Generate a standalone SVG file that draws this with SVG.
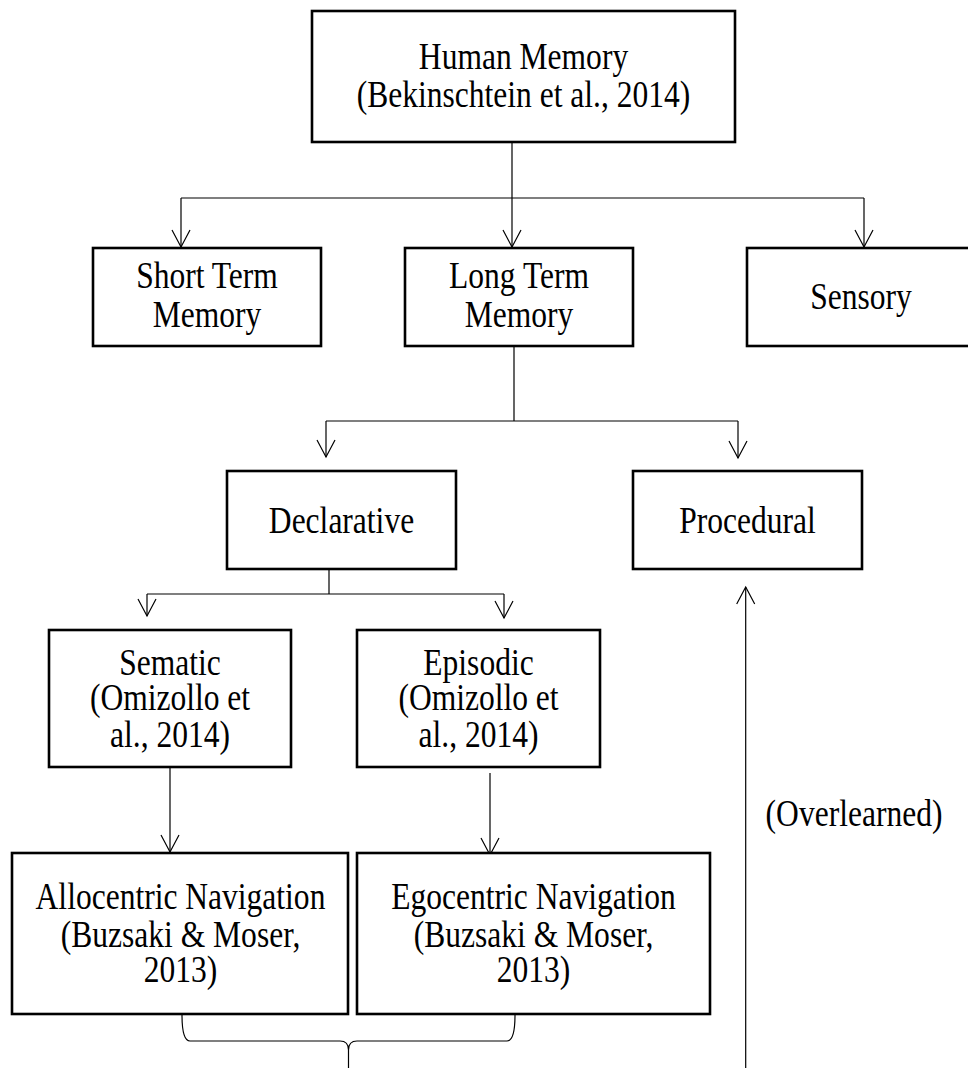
<svg xmlns="http://www.w3.org/2000/svg" width="968" height="1068" viewBox="0 0 968 1068">
<style>
.box{fill:#fff;stroke:#000;stroke-width:2.6}
.c{fill:none;stroke:#000;stroke-width:1.2}
text{font-family:"Liberation Serif","Times New Roman",serif;font-size:38px;fill:#000;text-anchor:middle}
</style>
<defs>
<marker id="ah" markerUnits="userSpaceOnUse" viewBox="-19 -11 21 22" refX="0" refY="0" markerWidth="21" markerHeight="22" orient="auto">
<path d="M-17,-9 L0,0 L-17,9" fill="none" stroke="#000" stroke-width="1.2"/>
</marker>
</defs>
<rect width="968" height="1068" fill="#fff"/>
<g id="connectors">
<path class="c" d="M512,142 V198 M181,198 H864 M514,346 V421 M326,421 H738 M329,569 V594 M147,594 H504"/>
<path class="c" d="M181,198 V247" marker-end="url(#ah)"/>
<path class="c" d="M512,198 V247" marker-end="url(#ah)"/>
<path class="c" d="M864,198 V247" marker-end="url(#ah)"/>
<path class="c" d="M326,421 V457" marker-end="url(#ah)"/>
<path class="c" d="M738,421 V458" marker-end="url(#ah)"/>
<path class="c" d="M147,594 V616" marker-end="url(#ah)"/>
<path class="c" d="M504,594 V618" marker-end="url(#ah)"/>
<path class="c" d="M170,767 V852" marker-end="url(#ah)"/>
<path class="c" d="M490,773 V855" marker-end="url(#ah)"/>
<path class="c" d="M745.7,1068 V587" marker-end="url(#ah)"/>
<path class="c" d="M182,1015 Q182,1041 190,1041 L340,1041 Q348.5,1041 348.5,1050 L348.5,1068 M515,1015 Q515,1041 507,1041 L357,1041 Q348.5,1041 348.5,1050"/>
</g>
<g id="human-memory">
<rect class="box" x="312" y="11" width="423" height="131"/>
<text transform="translate(523.5,69) scale(0.83,1)">Human Memory</text>
<text transform="translate(523.5,107) scale(0.83,1)">(Bekinschtein et al., 2014)</text>
</g>
<g id="short-term">
<rect class="box" x="93" y="248" width="228" height="98"/>
<text transform="translate(207,288) scale(0.83,1)">Short Term</text>
<text transform="translate(207,327) scale(0.83,1)">Memory</text>
</g>
<g id="long-term">
<rect class="box" x="405" y="248" width="228" height="98"/>
<text transform="translate(519,288) scale(0.83,1)">Long Term</text>
<text transform="translate(519,327) scale(0.83,1)">Memory</text>
</g>
<g id="sensory">
<rect class="box" x="747" y="248" width="230" height="98"/>
<text transform="translate(861,309) scale(0.83,1)">Sensory</text>
</g>
<g id="declarative">
<rect class="box" x="227" y="471" width="229" height="98"/>
<text transform="translate(341.5,533) scale(0.83,1)">Declarative</text>
</g>
<g id="procedural">
<rect class="box" x="633" y="471" width="229" height="98"/>
<text transform="translate(747.5,533) scale(0.83,1)">Procedural</text>
</g>
<g id="sematic">
<rect class="box" x="49" y="630" width="242" height="137"/>
<text transform="translate(170,675) scale(0.83,1)">Sematic</text>
<text transform="translate(170,710) scale(0.83,1)">(Omizollo et</text>
<text transform="translate(170,747) scale(0.83,1)">al., 2014)</text>
</g>
<g id="episodic">
<rect class="box" x="357" y="630" width="243" height="137"/>
<text transform="translate(478.5,675) scale(0.83,1)">Episodic</text>
<text transform="translate(478.5,710) scale(0.83,1)">(Omizollo et</text>
<text transform="translate(478.5,747) scale(0.83,1)">al., 2014)</text>
</g>
<g id="allocentric">
<rect class="box" x="12" y="853" width="336" height="161"/>
<text transform="translate(180.5,909) scale(0.83,1)">Allocentric Navigation</text>
<text transform="translate(180.5,947) scale(0.83,1)">(Buzsaki &amp; Moser,</text>
<text transform="translate(180.5,982) scale(0.83,1)">2013)</text>
</g>
<g id="egocentric">
<rect class="box" x="357" y="853" width="353" height="161"/>
<text transform="translate(533.5,909) scale(0.83,1)">Egocentric Navigation</text>
<text transform="translate(533.5,947) scale(0.83,1)">(Buzsaki &amp; Moser,</text>
<text transform="translate(533.5,982) scale(0.83,1)">2013)</text>
</g>
<g id="overlearned-label">
<text transform="translate(854,826) scale(0.83,1)">(Overlearned)</text>
</g>
</svg>
